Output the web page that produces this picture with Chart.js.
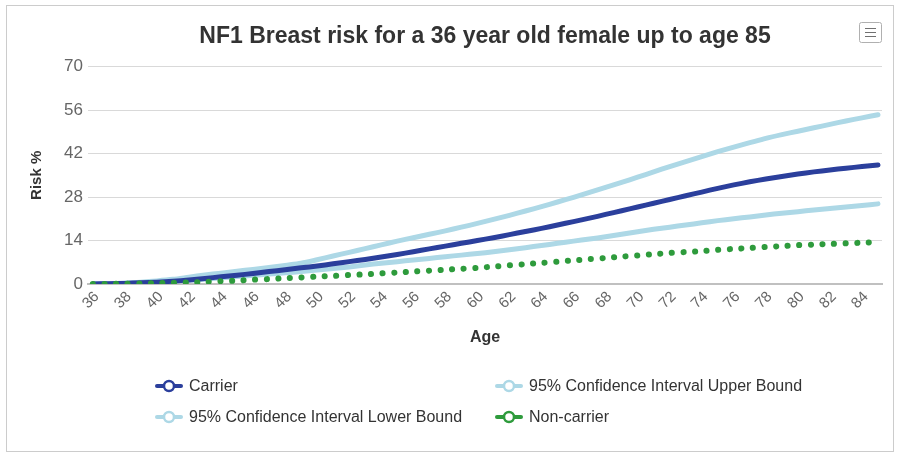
<!DOCTYPE html>
<html>
<head>
<meta charset="utf-8">
<title>NF1 Breast risk</title>
<script src="https://cdn.jsdelivr.net/npm/chart.js@4/dist/chart.umd.min.js"></script>
<style>
  html, body { margin: 0; padding: 0; background: #fff; }
  #wrap { position: relative; width: 897px; height: 455px; }
</style>
</head>
<body>
<div id="wrap"><canvas id="riskChart"></canvas></div>
<script>
// Ages on the x axis
const ages = [36, 37, 38, 39, 40, 41, 42, 43, 44, 45, 46, 47, 48, 49, 50, 51, 52, 53, 54, 55,
  56, 57, 58, 59, 60, 61, 62, 63, 64, 65, 66, 67, 68, 69, 70, 71, 72, 73, 74, 75,
  76, 77, 78, 79, 80, 81, 82, 83, 84, 85];

// Cumulative risk (%) per age
const carrier = [0, 0.1, 0.2, 0.4, 0.6, 0.9, 1.3, 1.8, 2.3, 2.8, 3.4, 4.0, 4.6, 5.2, 5.8, 6.5, 7.2, 7.9, 8.7, 9.5,
  10.4, 11.3, 12.2, 13.1, 14.0, 14.9, 15.9, 16.9, 17.9, 19.0, 20.1, 21.2, 22.4, 23.6, 24.8, 26.0, 27.2, 28.4, 29.6, 30.8,
  31.9, 32.9, 33.8, 34.6, 35.4, 36.1, 36.7, 37.3, 37.8, 38.3];
const upperBound = [0, 0.1, 0.3, 0.6, 1.0, 1.5, 2.2, 2.9, 3.5, 4.1, 4.7, 5.3, 6.0, 6.7, 7.8, 9.0, 10.2, 11.4, 12.6, 13.8,
  14.9, 16.0, 17.1, 18.3, 19.5, 20.8, 22.1, 23.5, 24.9, 26.4, 27.9, 29.5, 31.1, 32.7, 34.4, 36.1, 37.8, 39.4, 41.0, 42.6,
  44.1, 45.5, 46.9, 48.1, 49.2, 50.3, 51.4, 52.5, 53.5, 54.5];
const lowerBound = [0, 0.1, 0.2, 0.4, 0.6, 0.9, 1.2, 1.6, 2.0, 2.4, 2.8, 3.2, 3.6, 4.0, 4.5, 5.0, 5.5, 6.1, 6.7, 7.2,
  7.7, 8.2, 8.8, 9.3, 9.8, 10.4, 11.0, 11.7, 12.4, 13.1, 13.8, 14.5, 15.2, 16.0, 16.8, 17.6, 18.3, 19.0, 19.7, 20.4,
  21.0, 21.6, 22.2, 22.8, 23.3, 23.8, 24.3, 24.8, 25.3, 25.8];
const nonCarrier = [0, 0.05, 0.1, 0.2, 0.3, 0.4, 0.5, 0.7, 0.9, 1.1, 1.4, 1.6, 1.9, 2.1, 2.4, 2.6, 2.9, 3.1, 3.4, 3.7,
  4.0, 4.3, 4.6, 4.9, 5.2, 5.6, 6.0, 6.4, 6.8, 7.2, 7.6, 8.0, 8.4, 8.8, 9.2, 9.6, 10.0, 10.3, 10.6, 11.0,
  11.3, 11.6, 11.9, 12.2, 12.5, 12.7, 12.9, 13.1, 13.3, 13.5];

const yTicks = [0, 14, 28, 42, 56, 70];

const FONT = "'Liberation Sans', Arial, Helvetica, sans-serif";
Chart.defaults.font.family = FONT;

const toPoints = vals => vals.map((v, i) => ({ x: ages[i], y: v }));

// Frame + export menu button
const framePlugin = {
  id: "frame",
  beforeDraw(chart) {
    const ctx = chart.ctx;
    ctx.save();
    ctx.fillStyle = "#fff";
    ctx.fillRect(0, 0, chart.width, chart.height);
    ctx.strokeStyle = "#cccccc";
    ctx.lineWidth = 1;
    ctx.strokeRect(6.5, 5.5, 887, 446);
    ctx.restore();
  },
  afterDraw(chart) {
    const ctx = chart.ctx;
    ctx.save();
    ctx.strokeStyle = "#b0b0b0";
    ctx.lineWidth = 1;
    ctx.beginPath();
    ctx.roundRect(859.5, 22.5, 22, 20, 2);
    ctx.stroke();
    ctx.strokeStyle = "#707070";
    [28.5, 32.5, 36.5].forEach(y => {
      ctx.beginPath();
      ctx.moveTo(865, y);
      ctx.lineTo(876, y);
      ctx.stroke();
    });
    ctx.restore();
  }
};

// Two-column legend with line + hollow marker symbols
const gridLegend = {
  id: "gridLegend",
  afterDraw(chart) {
    const ctx = chart.ctx;
    const slots = [
      { i: 0, x: 157, y: 386 },
      { i: 1, x: 497, y: 386 },
      { i: 2, x: 157, y: 417 },
      { i: 3, x: 497, y: 417 }
    ];
    ctx.save();
    slots.forEach(s => {
      const ds = chart.data.datasets[s.i];
      ctx.strokeStyle = ds.borderColor;
      ctx.lineWidth = 4;
      ctx.lineCap = "round";
      ctx.beginPath();
      ctx.moveTo(s.x, s.y);
      ctx.lineTo(s.x + 24, s.y);
      ctx.stroke();
      ctx.beginPath();
      ctx.arc(s.x + 12, s.y, 5, 0, Math.PI * 2);
      ctx.fillStyle = "#fff";
      ctx.fill();
      ctx.lineWidth = 2.5;
      ctx.stroke();
      ctx.fillStyle = "#333333";
      ctx.font = "16px " + FONT;
      ctx.textBaseline = "middle";
      ctx.textAlign = "left";
      ctx.fillText(ds.label, s.x + 32, s.y + 1);
    });
    ctx.restore();
  }
};

const ctx = document.getElementById("riskChart").getContext("2d");
new Chart(ctx, {
  type: "line",
  data: {
    datasets: [
      {
        label: "Carrier",
        data: toPoints(carrier),
        borderColor: "#2b3f9c",
        borderWidth: 5,
        order: 1
      },
      {
        label: "95% Confidence Interval Upper Bound",
        data: toPoints(upperBound),
        borderColor: "#add8e6",
        borderWidth: 5,
        order: 2
      },
      {
        label: "95% Confidence Interval Lower Bound",
        data: toPoints(lowerBound),
        borderColor: "#add8e6",
        borderWidth: 5,
        order: 2
      },
      {
        label: "Non-carrier",
        data: toPoints(nonCarrier),
        borderColor: "#2e9b3c",
        borderWidth: 6,
        borderDash: [0.1, 11.5],
        order: 0
      }
    ]
  },
  options: {
    responsive: true,
    maintainAspectRatio: false,
    animation: false,
    layout: { padding: { top: 0, right: 15, bottom: 101, left: 0 } },
    elements: {
      point: { radius: 0, hoverRadius: 0 },
      line: { tension: 0.3, borderCapStyle: "round", borderJoinStyle: "round", fill: false }
    },
    plugins: {
      legend: { display: false },
      tooltip: { enabled: false },
      title: {
        display: true,
        fullSize: false,
        text: "NF1 Breast risk for a 36 year old female up to age 85",
        color: "#333333",
        font: { size: 23, weight: "bold" },
        padding: { top: 23, bottom: 16 }
      }
    },
    scales: {
      x: {
        type: "linear",
        min: 35.7,
        max: 85.25,
        afterFit: s => { s.height = 70; },
        grid: { display: false, drawTicks: false },
        border: { display: true, color: "#c0c0c0", width: 2 },
        ticks: {
          stepSize: 2,
          includeBounds: false,
          autoSkip: false,
          minRotation: 45,
          maxRotation: 45,
          labelOffset: 4,
          padding: 4,
          color: "#666666",
          font: { size: 15 }
        },
        title: {
          display: true,
          text: "Age",
          color: "#333333",
          font: { size: 16, weight: "bold" },
          padding: { top: 0, bottom: 7 }
        }
      },
      y: {
        min: 0,
        max: 70,
        afterFit: s => { s.width = 88; },
        afterBuildTicks: s => { s.ticks = yTicks.map(v => ({ value: v })); },
        grid: { color: "#d9d9d9", drawTicks: false },
        border: { display: false },
        ticks: {
          padding: 5,
          color: "#666666",
          font: { size: 17 }
        },
        title: {
          display: true,
          text: "Risk %",
          color: "#333333",
          font: { size: 15, weight: "bold" },
          padding: { top: 28, bottom: 0 }
        }
      }
    }
  },
  plugins: [framePlugin, gridLegend]
});
</script>
</body>
</html>
